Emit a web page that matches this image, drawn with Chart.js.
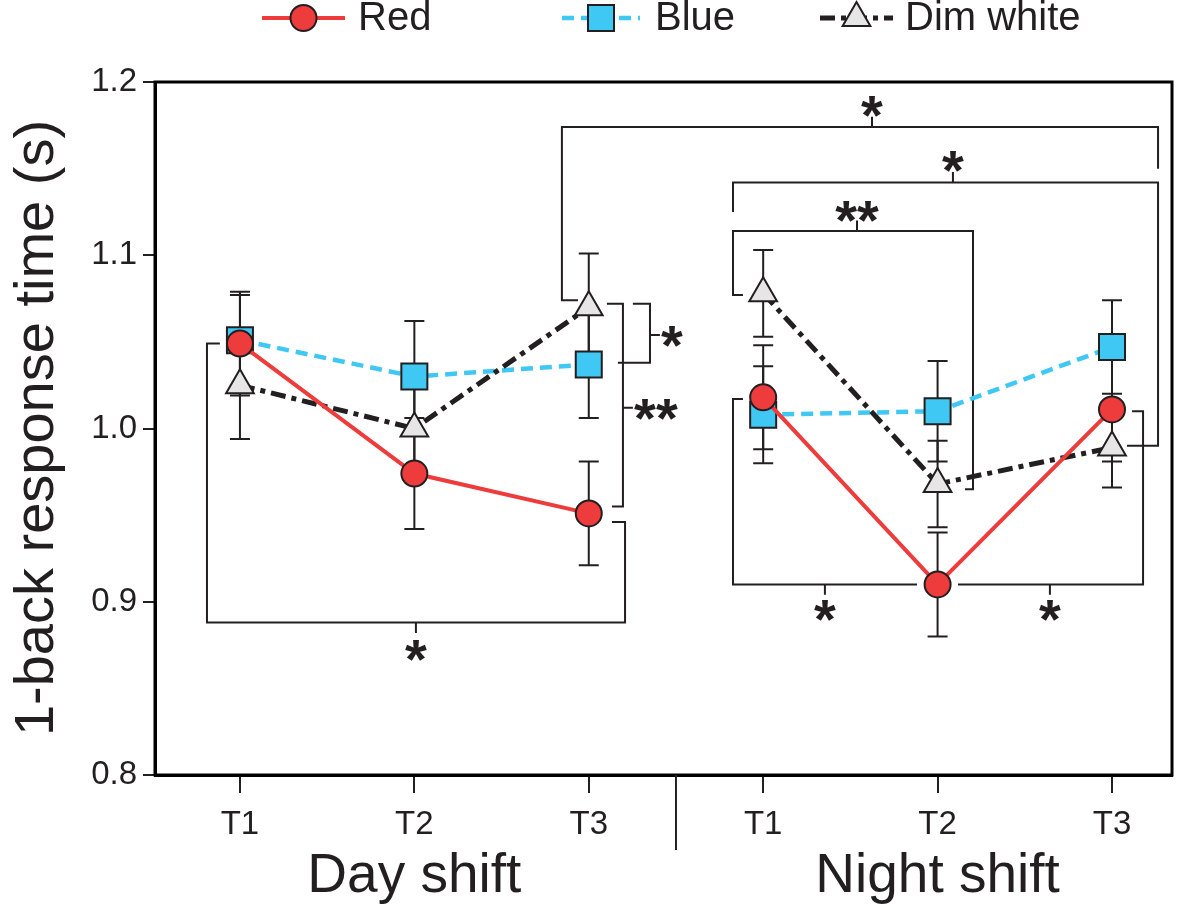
<!DOCTYPE html>
<html>
<head>
<meta charset="utf-8">
<script src="https://cdn.jsdelivr.net/npm/chart.js@4.4.1/dist/chart.umd.min.js"></script>
<style>
  html, body { margin: 0; padding: 0; background: #fff; }
</style>
</head>
<body>
<canvas id="chart" width="1200" height="907"></canvas>
<script>
// values (mean ± error bar)
const timeLabels = ['T1', 'T2', 'T3', 'T1', 'T2', 'T3'];
const shiftLabels = ['Day shift', 'Night shift'];
const xPos = [0, 1, 2, 3, 4, 5];

const redMean  = [1.049, 0.974, 0.951, 1.018, 0.910, 1.011];
const redErr   = [0.030, 0.032, 0.030, 0.030, 0.030, 0.030];
const blueMean = [1.051, 1.030, 1.037, 1.008, 1.010, 1.047];
const blueErr  = [0.026, 0.032, 0.031, 0.028, 0.029, 0.027];
const dimMean  = [1.025, 1.000, 1.070, 1.078, 0.968, 0.989];
const dimErr   = [0.031, 0.030, 0.031, 0.025, 0.025, 0.023];

// significance brackets, in axis units (x = time slot index, y = seconds)
const sigMarks = [
  { path: [[-0.115,1.049],[-0.189,1.049],[-0.189,0.888],[2.208,0.888],[2.208,0.946],[2.133,0.946]],
    stem: [[1.009,0.888],[1.009,0.882]], text: '*', at: [1.009,0.872] },
  { path: [[2.253,1.072],[2.351,1.072],[2.351,1.038],[2.167,1.038]],
    stem: [[2.351,1.054],[2.408,1.054]], text: '*', at: [2.477,1.053] },
  { path: [[2.104,1.072],[2.196,1.072],[2.196,0.955],[2.133,0.955]],
    stem: [[2.196,1.012],[2.253,1.012]], text: '**', at: [2.385,1.011] },
  { path: [[1.938,1.074],[1.846,1.074],[1.846,1.174],[5.264,1.174],[5.264,1.150]],
    stem: [[3.624,1.174],[3.624,1.180]], text: '*', at: [3.624,1.186] },
  { path: [[2.827,1.125],[2.827,1.142],[5.264,1.142],[5.264,0.990],[5.086,0.990]],
    stem: [[4.088,1.142],[4.088,1.148]], text: '*', at: [4.088,1.154] },
  { path: [[2.884,1.077],[2.827,1.077],[2.827,1.114],[4.203,1.114],[4.203,0.965],[4.157,0.965]],
    stem: [[3.538,1.114],[3.538,1.120]], text: '**', at: [3.538,1.125] },
  { path: [[2.884,1.017],[2.827,1.017],[2.827,0.910],[3.882,0.910]],
    stem: [[3.354,0.910],[3.354,0.904]], text: '*', at: [3.354,0.895] },
  { path: [[4.117,0.910],[5.178,0.910],[5.178,1.010],[5.115,1.010]],
    stem: [[4.644,0.910],[4.644,0.904]], text: '*', at: [4.644,0.895] }
];

const INK = '#231F20';
const FONT = '"Liberation Sans", Arial, Helvetica, sans-serif';

const series = [
  { label: 'Red', mean: redMean, err: redErr, color: '#EE3B3B', fill: '#EE3B3B', dash: [], width: 4, style: 'circle', r: 13 },
  { label: 'Dim white', mean: dimMean, err: dimErr, color: '#231F20', fill: '#E6E6E6', dash: [15, 6, 5, 6], width: 5, style: 'triangle', r: 16 },
  { label: 'Blue', mean: blueMean, err: blueErr, color: '#3FC8F4', fill: '#3FC8F4', dash: [12, 7], width: 4.5, style: 'rect', r: 18.4 }
];

function toPoints(means) {
  const pts = [];
  means.forEach((v, i) => {
    if (i === 3) pts.push({ x: 2.5, y: null }); // no line between shifts
    pts.push({ x: xPos[i], y: v });
  });
  return pts;
}

function drawMarker(ctx, s, x, y) {
  ctx.save();
  ctx.setLineDash([]);
  ctx.lineWidth = 2;
  ctx.strokeStyle = INK;
  ctx.fillStyle = s.fill;
  ctx.beginPath();
  if (s.style === 'circle') {
    ctx.arc(x, y, s.r, 0, Math.PI * 2);
  } else if (s.style === 'rect') {
    const h = s.r * Math.SQRT1_2;
    ctx.rect(x - h, y - h, 2 * h, 2 * h);
  } else {
    ctx.moveTo(x, y - s.r);
    ctx.lineTo(x + s.r * 0.866, y + s.r / 2);
    ctx.lineTo(x - s.r * 0.866, y + s.r / 2);
    ctx.closePath();
  }
  ctx.fill();
  ctx.stroke();
  ctx.restore();
}

function drawStars(ctx, text, x, y) {
  ctx.font = 'bold 56px ' + FONT;
  ctx.textAlign = 'center';
  ctx.textBaseline = 'alphabetic';
  const m = ctx.measureText(text);
  ctx.fillText(text, x, y + (m.actualBoundingBoxAscent - m.actualBoundingBoxDescent) / 2);
}

const extras = {
  id: 'extras',
  beforeDatasetsDraw(chart) {
    const ctx = chart.ctx, xs = chart.scales.x, ys = chart.scales.y;
    ctx.save();
    ctx.strokeStyle = INK;
    ctx.lineWidth = 2;
    ctx.setLineDash([]);
    // brackets
    sigMarks.forEach(m => {
      ctx.beginPath();
      m.path.forEach((p, i) => {
        const X = xs.getPixelForValue(p[0]), Y = ys.getPixelForValue(p[1]);
        if (i === 0) ctx.moveTo(X, Y); else ctx.lineTo(X, Y);
      });
      ctx.moveTo(xs.getPixelForValue(m.stem[0][0]), ys.getPixelForValue(m.stem[0][1]));
      ctx.lineTo(xs.getPixelForValue(m.stem[1][0]), ys.getPixelForValue(m.stem[1][1]));
      ctx.stroke();
    });
    // error bars
    series.forEach(s => {
      s.mean.forEach((v, i) => {
        const X = xs.getPixelForValue(xPos[i]);
        const y1 = ys.getPixelForValue(v + s.err[i]);
        const y2 = ys.getPixelForValue(v - s.err[i]);
        ctx.beginPath();
        ctx.moveTo(X, y1); ctx.lineTo(X, y2);
        ctx.moveTo(X - 10, y1); ctx.lineTo(X + 10, y1);
        ctx.moveTo(X - 10, y2); ctx.lineTo(X + 10, y2);
        ctx.stroke();
      });
    });
    ctx.restore();
  },
  afterDraw(chart) {
    const ctx = chart.ctx, xs = chart.scales.x, ys = chart.scales.y, a = chart.chartArea;
    ctx.save();
    // frame
    ctx.strokeStyle = '#000';
    ctx.lineWidth = 3;
    ctx.strokeRect(a.left, a.top, a.right - a.left, a.bottom - a.top);
    // divider between shifts
    ctx.strokeStyle = INK;
    ctx.lineWidth = 2;
    const dx = xs.getPixelForValue(2.5);
    ctx.beginPath();
    ctx.moveTo(dx, a.bottom); ctx.lineTo(dx, a.bottom + 75);
    ctx.stroke();
    // stars
    ctx.fillStyle = INK;
    sigMarks.forEach(m => drawStars(ctx, m.text, xs.getPixelForValue(m.at[0]), ys.getPixelForValue(m.at[1])));
    // shift labels
    ctx.font = '55px ' + FONT;
    ctx.textAlign = 'center';
    ctx.textBaseline = 'middle';
    ctx.fillText(shiftLabels[0], xs.getPixelForValue(1), 877);
    ctx.fillText(shiftLabels[1], xs.getPixelForValue(4), 877);
    // y title
    ctx.save();
    ctx.translate(38, 428);
    ctx.rotate(-Math.PI / 2);
    ctx.font = '56px ' + FONT;
    ctx.fillText('1-back response time (s)', 0, 0);
    ctx.restore();
    // legend
    const legendItems = [
      { s: series[0], x1: 262, x2: 345, tx: 358 },
      { s: series[2], x1: 562, x2: 640, tx: 655 },
      { s: series[1], x1: 820, x2: 893, tx: 905 }
    ];
    const ly = 18;
    legendItems.forEach(it => {
      ctx.strokeStyle = it.s.color;
      ctx.lineWidth = it.s.width;
      ctx.setLineDash(it.s.dash);
      ctx.beginPath();
      ctx.moveTo(it.x1, ly); ctx.lineTo(it.x2, ly);
      ctx.stroke();
      drawMarker(ctx, it.s, (it.x1 + it.x2) / 2, ly);
      ctx.fillStyle = INK;
      ctx.font = '40px ' + FONT;
      ctx.textAlign = 'left';
      ctx.textBaseline = 'middle';
      ctx.fillText(it.s.label, it.tx, ly + 1);
    });
    ctx.restore();
  }
};

new Chart(document.getElementById('chart'), {
  type: 'line',
  data: {
    datasets: series.map(s => ({
      label: s.label,
      data: toPoints(s.mean),
      borderColor: s.color,
      borderWidth: s.width,
      borderDash: s.dash,
      backgroundColor: s.fill,
      pointStyle: s.style,
      pointRadius: s.r,
      pointBackgroundColor: s.fill,
      pointBorderColor: INK,
      pointBorderWidth: 2,
      tension: 0,
      spanGaps: false,
      fill: false
    }))
  },
  options: {
    responsive: false,
    animation: false,
    layout: { padding: { top: 82, right: 28, left: 0, bottom: 0 } },
    plugins: { legend: { display: false }, tooltip: { enabled: false } },
    scales: {
      x: {
        type: 'linear', min: -0.487, max: 5.344,
        afterBuildTicks: s => { s.ticks = xPos.map(v => ({ value: v })); },
        afterFit: s => { s.height = 132; },
        ticks: {
          callback: v => timeLabels[Math.round(v)],
          font: { size: 33, family: FONT }, color: INK, padding: 12,
          maxRotation: 0, autoSkip: false
        },
        grid: { drawOnChartArea: false, drawTicks: true, tickLength: 18, color: INK, lineWidth: 2 },
        border: { display: true, color: '#000', width: 3 }
      },
      y: {
        min: 0.8, max: 1.2,
        afterFit: s => { s.width = 155; },
        ticks: {
          stepSize: 0.1, callback: v => v.toFixed(1),
          font: { size: 33, family: FONT }, color: INK, padding: 6
        },
        grid: { drawOnChartArea: false, drawTicks: true, tickLength: 12, color: INK, lineWidth: 2 },
        border: { display: true, color: '#000', width: 3 }
      }
    }
  },
  plugins: [extras]
});
</script>
</body>
</html>
